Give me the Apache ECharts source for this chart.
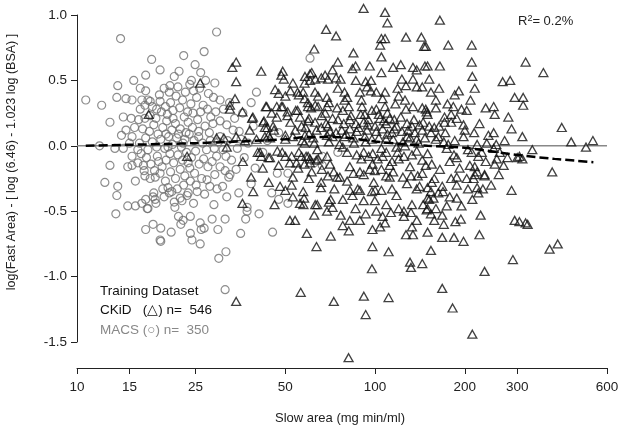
<!DOCTYPE html>
<html><head><meta charset="utf-8">
<script src="https://cdn.jsdelivr.net/npm/echarts@6/dist/echarts.min.js"></script>
<style>html,body{margin:0;padding:0;background:#fff}#c{width:624px;height:429px}</style>
</head><body><div id="c"></div>
<script>
// x tick labels (log axis)
const xTicks = [10, 15, 25, 50, 100, 200, 300, 600];
const yTicks = [-1.5, -1.0, -0.5, 0.0, 0.5, 1.0];
// MACS (circles) [slow area, residual]
const macsPoints = [[10.7,0.35],[12.1,0.31],[12.9,0.18],[14.0,0.82],[13.7,0.46],[13.6,0.37],[14.6,0.36],[15.3,0.35],[14.3,0.22],[15.2,0.21],[14.1,0.08],[15.5,0.50],[17.0,0.54],[16.3,0.44],[17.0,0.42],[17.8,0.66],[16.5,0.35],[17.3,0.35],[16.3,0.28],[16.9,0.31],[17.6,0.34],[16.9,0.21],[17.6,0.23],[15.3,0.07],[13.4,-0.02],[14.3,-0.02],[11.9,0.0],[12.9,-0.15],[12.4,-0.28],[13.7,-0.31],[13.6,-0.38],[15.3,-0.08],[14.8,-0.16],[15.3,-0.15],[16.0,-0.13],[16.7,-0.15],[15.7,-0.27],[16.9,-0.23],[17.6,-0.25],[18.6,-0.08],[17.0,-0.41],[17.2,-0.48],[18.0,-0.39],
[29.4,0.87],[26.7,0.72],[22.8,0.69],[22.0,0.57],[20.5,0.46],[24.2,0.50],[60.5,0.67],[40.0,0.41],[28.7,0.37],[30.2,0.35],[38.4,0.33],[33.4,0.12],[31.8,0.16],[30.2,0.19],[30.2,0.07],[39.0,0.15],[31.6,-0.08],[29.4,-0.08],[30.2,-0.16],[32.6,-0.22],[31.4,-0.19],[30.8,-0.31],[31.8,-0.39],[39.6,-0.17],[47.0,-0.21],[45.0,-0.36],[47.5,-0.41],[51.0,-0.44],[66.5,-0.08],[75.0,-0.05],[62.5,-0.13],[66.5,-0.15],[47.5,0.10],[51.0,-0.21],[37.2,-0.47],[40.8,-0.52],[45.3,-0.66],[35.4,-0.67],
[13.5,-0.52],[14.8,-0.46],[15.7,-0.46],[16.5,-0.44],[17.3,-0.48],[18.1,-0.36],[18.4,-0.44],[18.3,-0.41],[19.6,-0.39],[20.2,-0.32],[20.8,-0.35],[21.3,-0.47],[21.2,-0.43],[22.2,-0.40],[23.6,-0.36],[25.3,-0.35],[21.9,-0.54],[22.7,-0.57],[24.0,-0.54],[22.3,-0.60],[25.9,-0.59],[26.1,-0.64],[28.4,-0.56],[31.4,-0.56],[29.7,-0.64],[26.7,-0.63],[17.0,-0.64],[18.0,-0.60],[19.1,-0.63],[19.0,-0.72],[19.1,-0.73],[20.7,-0.66],[24.0,-0.67],[24.3,-0.72],[25.9,-0.75],[29.9,-0.86],[31.6,-0.81],[31.4,-1.10],[32.3,-0.24],[27.3,-0.26],[37.2,-0.50],
[18.5,0.28],[19.2,0.26],[19.8,0.30],[20.1,0.24],[20.6,0.33],[21.0,0.27],[21.5,0.38],[22.1,0.29],[22.6,0.35],[23.1,0.41],[23.5,0.26],[24.1,0.32],[24.6,0.42],[25.2,0.37],[18.9,0.39],[19.6,0.44],[20.4,0.41],[21.8,0.45],[23.9,0.47],[25.8,0.44],[26.5,0.31],[27.4,0.28],[28.1,0.22],[26.9,0.15],[27.8,0.10],[28.6,0.17],[29.2,0.26],[25.4,0.20],[24.4,0.14],[23.6,0.18],[22.9,0.22],[22.2,0.13],[21.4,0.17],[20.8,0.12],[20.0,0.19],[19.4,0.14],[18.7,0.09],[18.1,0.16],[17.5,0.11],[17.0,0.06],[16.6,0.13],[16.2,0.02],[17.3,-0.03],[17.9,0.03],[18.5,-0.01],[19.1,0.05],[19.7,-0.02],[20.3,0.07],[20.9,0.01],[21.6,0.06],[22.4,-0.01],[23.0,0.05],[23.8,0.09],[24.7,0.04],[25.6,0.07],[26.4,0.02],[27.2,-0.03],[28.0,0.04],[28.9,-0.02],[25.0,-0.04],[24.2,-0.09],[23.3,-0.05],[22.6,-0.11],[21.8,-0.07],[21.1,-0.13],[20.5,-0.06],[19.9,-0.11],[19.3,-0.16],[18.8,-0.12],[18.2,-0.19],[17.7,-0.14],[17.1,-0.09],[16.4,-0.06],[18.3,-0.24],[19.0,-0.21],[19.8,-0.27],[20.6,-0.20],[21.4,-0.25],[22.2,-0.18],[23.0,-0.23],[23.9,-0.17],[24.8,-0.21],[25.7,-0.14],[26.6,-0.10],[27.5,-0.16],[28.4,-0.12],[29.0,-0.22],[26.2,-0.25],[25.1,-0.30],[24.0,-0.27],[22.8,-0.30],[21.7,-0.33],[20.4,-0.36],[19.4,-0.33],[22.5,-0.42],[23.4,-0.38],[24.6,-0.44],[26.8,-0.37],[27.9,-0.31],[28.8,-0.45],[29.5,-0.33],[26.0,0.56],[24.9,0.62],[21.2,0.53],[19.0,0.58],[27.6,0.40],[23.2,0.10],[21.0,0.21],[19.9,0.09],[18.4,0.21],[24.5,0.25],[26.0,0.26],[22.7,0.02],[19.0,0.34],[17.9,0.30],[16.1,0.20],[15.6,0.14],[16.0,-0.03],[15.0,0.02],[14.6,0.12],[16.8,-0.19],[29.8,0.03],[30.9,-0.03],[32.0,0.04],[33.0,-0.11],[34.5,-0.02],[35.5,0.05],[33.8,0.21],[35.0,0.11],[36.4,-0.09],[37.5,0.02],[34.2,-0.18],[31.0,0.28],[32.5,0.33],[36.0,0.25],[42.0,-0.05],[43.5,0.04],[38.4,-0.29],[34.9,-0.36],[36.8,-0.56],[29.0,0.48],[27.0,0.50],[25.6,0.11],[20.2,-0.01],[21.9,0.09],[23.6,-0.13]];
// CKiD (triangles) [slow area, residual]
const ckidPoints = [[62.5,0.74],[34.2,0.64],[33.2,0.60],[34.2,0.49],[25.9,0.48],[33.9,0.36],[32.6,0.31],[32.6,0.28],[35.9,0.26],[38.7,0.21],[41.5,0.57],[49.0,0.57],[49.4,0.51],[53.0,0.48],[46.2,0.43],[47.5,0.40],[55.0,0.41],[57.4,0.41],[61.3,0.56],[58.0,0.48],[60.5,0.50],[43.3,0.30],[46.8,0.30],[49.0,0.30],[46.8,0.22],[50.9,0.26],[54.2,0.27],[59.6,0.30],[63.0,0.31],[42.2,0.18],[43.5,0.14],[43.9,0.08],[50.0,0.08],[53.0,0.07],[56.7,0.15],[58.5,0.14],[60.0,0.09],[57.0,0.04],[62.5,0.02],[29.4,0.06],[31.1,0.06],[31.8,-0.01],[34.2,0.07],[36.6,0.04],[41.1,-0.05],[43.9,-0.09],[47.0,-0.04],[47.5,-0.15],[50.0,-0.08],[51.8,-0.13],[54.5,-0.13],[56.7,-0.08],[58.7,-0.08],[60.5,-0.10],[61.3,-0.20],[63.5,-0.11],[38.4,-0.24],[50.0,-0.34],[52.5,-0.30],[57.4,-0.35],[57.8,-0.40],[35.9,-0.44],[56.0,-0.44],[57.5,-0.45],[63.0,-0.45],[23.4,-0.08],[17.4,0.24],
[51.8,-0.57],[53.9,-0.57],[59.0,-0.67],[62.5,-0.53],[63.6,-0.77],[56.3,-1.12],[34.2,-1.19],[65.8,-0.32],[64.0,-0.45],[71.0,-0.41],[72.0,-0.47],[69.0,-0.50],[70.0,-0.43],[71.0,-0.69],[76.7,-0.53],[77.9,-0.61],[81.6,-0.65],[82.3,-0.57],[88.9,-0.57],[91.6,-0.42],[87.5,-0.33],[89.0,-0.34],[97.6,-0.35],[100,-0.34],[99.8,-0.42],[105,-0.34],[99,-0.28],[109,-0.45],[101,-0.50],[106,-0.54],[98,-0.64],[104,-0.62],[108,-0.59],[113,-0.51],[120,-0.48],[125,-0.50],[125,-0.54],[133,-0.45],[132,-0.51],[138,-0.57],[133,-0.62],[127,-0.68],[134,-0.68],[149,-0.49],[150,-0.66],[98,-0.77],[111,-0.81],[97.6,-0.94],[131,-0.89],[132,-0.93],[144,-0.90],[72.7,-1.19],[91.7,-1.15],[111,-1.16],[93,-1.29],[81.5,-1.62],[112,-0.24],[114,-0.33],[141,-0.31],[150,-0.32],[150,-0.40],[74.6,-0.24],[80.6,-0.27],[82.3,-0.34],[84,-0.38],
[158,-0.25],[180,-0.25],[188,-0.24],[203,-0.25],[214,-0.25],[233,-0.23],[155,-0.28],[154,-0.35],[168,-0.31],[169,-0.35],[163,-0.36],[188,-0.30],[220,-0.32],[230,-0.33],[222,-0.36],[152,-0.41],[157,-0.40],[188,-0.40],[212,-0.41],[287,-0.34],[174,-0.46],[150,-0.48],[154,-0.52],[168,-0.53],[158,-0.57],[170,-0.60],[186,-0.58],[194,-0.56],[226,-0.53],[168,-0.70],[184,-0.70],[198,-0.73],[224,-0.68],[294,-0.57],[305,-0.58],[320,-0.59],[325,-0.60],[385,-0.79],[410,-0.75],[290,-0.87],[154,-0.80],[233,-0.96],[168,-1.09],[182,-1.24],[212,-1.44],
[165,0.96],[148,0.76],[176,0.77],[211,0.77],[211,0.64],[320,0.64],[367,0.56],[150,0.61],[165,0.61],[152,0.51],[212,0.53],[268,0.49],[284,0.50],[216,0.44],[164,0.44],[154,0.41],[191,0.42],[185,0.39],[294,0.37],[314,0.37],[314,0.31],[209,0.35],[183,0.30],[235,0.29],[250,0.30],[203,0.27],[160,0.29],[148,0.28],[150,0.24],[252,0.24],[280,0.22],[171,0.22],[180,0.24],[188,0.21],[224,0.17],[198,0.16],[200,0.12],[287,0.13],[250,0.10],[312,0.07],[423,0.14],[455,0.03],[510,-0.01],[538,0.04],[337,-0.03],[393,-0.20],[220,0.01],[237,0.02],[255,0.01],[250,-0.02],[278,-0.09],[300,-0.09],[312,-0.10],[305,-0.08],[235,-0.12],[256,-0.10],[252,-0.14],[222,-0.08],[211,-0.05],[208,-0.15],[216,-0.16],[220,-0.20],[233,-0.22],[216,-0.22],[188,-0.09],[184,-0.07],[174,-0.02],[176,0.01],[170,0.03],[163,0.07],[154,0.10],[152,0.15],[158,0.14],[164,0.15],[171,0.18],[180,0.18],
[91.5,1.05],[108,1.02],[110,0.94],[68.5,0.89],[74,0.84],[105,0.82],[108,0.82],[104,0.77],[127,0.83],[143,0.83],[146,0.76],[84.6,0.71],[75,0.64],[105,0.68],[122,0.62],[72,0.58],[84,0.59],[86,0.61],[96,0.61],[105,0.56],[115,0.60],[134,0.60],[138,0.58],[147,0.61],[48.5,0.54],[68,0.54],[69.5,0.51],[74,0.52],[76.6,0.51],[86.2,0.50],[93,0.49],[97,0.50],[94,0.45],[123,0.51],[127,0.46],[134,0.51],[138,0.45],[144,0.45],[52,0.42],[55.5,0.39],[62.9,0.41],[64.4,0.38],[69,0.37],[75,0.44],[79,0.41],[80.6,0.37],[79,0.35],[89,0.41],[96.7,0.42],[101,0.41],[108,0.41],[106,0.36],[119,0.44],[126,0.35],[43,0.30],[48.5,0.30],[55,0.27],[59.5,0.33],[61,0.29],[64.4,0.30],[69,0.30],[74.6,0.29],[81.6,0.30],[90.4,0.30],[92.4,0.24],[97.6,0.27],[101,0.28],[108,0.30],[110,0.25],[117,0.32],[127,0.28],[134,0.30],[144,0.29],[149,0.26],[38.9,0.22],[42.4,0.19],[50.8,0.23],[66.2,0.23],[59.6,0.19],[62.9,0.18],[68.5,0.17],[75.1,0.20],[78.5,0.17],[82.3,0.20],[86.2,0.17],[89.6,0.24],[91.6,0.18],[94.5,0.16],[104,0.21],[109,0.17],[112,0.21],[116,0.20],[118,0.15],[128,0.17],[133,0.15],[141,0.16],[42.7,0.14],[45.5,0.15],[45.8,0.12],[63.6,0.12],[69.5,0.15],[70.6,0.11],[77.3,0.12],[82.3,0.13],[86.8,0.11],[94,0.12],[101,0.11],[106,0.13],[114,0.10],[123,0.11],[128,0.07],[136,0.10],[144,0.12],[42.7,0.07],[44.4,0.06],[50,0.05],[58.2,0.08],[69,0.08],[72,0.07],[79,0.07],[84.6,0.06],[92.4,0.07],[97.6,0.05],[103,0.06],[109,0.05],[115,0.05],[124,0.03],[131,0.06],[138,0.05],[147,0.06],[40.4,-0.05],[41.5,-0.08],[44.4,-0.09],[48.8,-0.05],[52.5,-0.08],[55.5,-0.05],[59.6,-0.08],[60.5,-0.13],[64.4,-0.10],[69,-0.08],[70.6,-0.14],[77.9,-0.01],[80.6,-0.05],[86.8,-0.07],[91.6,-0.05],[95.2,-0.08],[98.2,-0.06],[102,-0.10],[106,-0.08],[109,-0.05],[114,-0.12],[118,-0.01],[119,-0.05],[125,-0.08],[133,-0.07],[138,-0.04],[144,-0.11],[148,-0.15],[55.2,-0.17],[58,-0.14],[66.3,-0.18],[72.7,-0.20],[82.3,-0.16],[84.6,-0.21],[89,-0.20],[91.6,-0.22],[96,-0.18],[99.8,-0.19],[105,-0.18],[109,-0.23],[115,-0.20],[124,-0.24],[132,-0.23],[139,-0.23],[144,-0.21],[76.2,-0.24],[69.5,-0.23],[53,-0.24],
[58.2,0.53],[60.5,0.55],[63,0.51],[66,0.52],
[52,0.18],[54,0.12],[56,0.22],[58,0.02],[60,0.21],[62,0.06],[64,-0.03],[66,0.14],[68,0.25],[70,0.03],[72,0.21],[74,0.10],[76,0.01],[78,0.27],[80,0.09],[83,0.23],[85,0.02],[88,0.14],[90,-0.10],[93,0.03],[95,0.20],[98,-0.14],[100,0.15],[103,0.24],[105,-0.02],[107,0.19],[110,0.09],[112,-0.15],[116,0.13],[120,-0.10],[122,0.22],[126,0.00],[129,0.12],[131,-0.16],[135,0.20],[140,0.02],[145,0.18],[150,-0.06],[155,-0.14],[160,0.05],[165,-0.18],[172,0.10],[178,-0.12],[185,0.04],[192,-0.17],[198,0.07],[205,-0.03],[215,0.10],[228,-0.05],[240,0.08],[262,-0.05],[272,0.04],[160,0.35],[175,0.32],[195,0.28],[120,0.38],[90,0.35],[70,0.33],[58,0.36],[50,0.38],[45,0.25],[40,0.05],[38,0.12],[36,-0.12],[39,-0.35],[42,-0.17],[44,-0.28],[46,-0.45],[48,-0.31],[53,-0.39],[66,-0.28],[60,-0.25],[73,-0.33],[78,-0.41],[86,-0.48],[93,-0.52],[118,-0.38],[128,-0.29],[138,-0.33],[145,-0.45],[160,-0.48],[178,-0.39],[195,-0.46],[205,-0.33],[245,-0.30],[260,-0.22],[270,-0.15]];
// fitted trend (dashed)
const fitX = [10.7, 15, 20, 25, 35, 50, 60, 76, 100, 121, 150, 200, 300, 400, 540];
const fitY = [0.0, 0.008, 0.014, 0.02, 0.033, 0.05, 0.068, 0.066, 0.033, 0.015, 0.0, -0.015, -0.07, -0.1, -0.125];
// zero reference line
const zeroX = [10, 600];
const zeroY = [0, 0];

const FONT = '"Liberation Sans", Arial, sans-serif';
const chart = echarts.init(document.getElementById('c'), null, {renderer: 'canvas'});
chart.setOption({
  animation: false,
  backgroundColor: '#fff',
  grid: {left: 77, right: 17, top: 15, bottom: 87},
  xAxis: {
    type: 'log', logBase: 10, min: 10, max: 600, offset: 26,
    axisLine: {show: true, onZero: false, lineStyle: {color: '#222', width: 1}},
    axisTick: {show: true, customValues: xTicks, length: 6, lineStyle: {color: '#222'}},
    axisLabel: {customValues: xTicks, margin: 12, fontSize: 13.5, color: '#222', fontFamily: FONT},
    splitLine: {show: false}, minorTick: {show: false}
  },
  yAxis: {
    type: 'value', min: -1.5, max: 1.0, interval: 0.5,
    axisLine: {show: true, onZero: false, lineStyle: {color: '#222', width: 1}},
    axisTick: {show: true, length: 6, lineStyle: {color: '#222'}},
    axisLabel: {margin: 10, fontSize: 13.5, color: '#222', fontFamily: FONT,
      formatter: v => (Math.abs(v) < 1e-9 ? 0 : v).toFixed(1)},
    splitLine: {show: false}
  },
  series: [
    {type: 'line', data: zeroX.map((x, i) => [x, zeroY[i]]), symbol: 'none',
     lineStyle: {color: '#888', width: 1.5}, z: 1, silent: true},
    {type: 'scatter', name: 'MACS', data: macsPoints, symbol: 'circle', symbolSize: 8, clip: false,
     itemStyle: {color: 'rgba(0,0,0,0)', borderColor: '#707070', borderWidth: 1.2}, z: 2},
    {type: 'scatter', name: 'CKiD', data: ckidPoints, symbol: 'triangle', symbolSize: [9, 8], clip: false,
     itemStyle: {color: 'rgba(0,0,0,0)', borderColor: '#111', borderWidth: 1.3}, z: 3},
    {type: 'line', data: fitX.map((x, i) => [x, fitY[i]]), symbol: 'none', smooth: 0.3,
     lineStyle: {color: '#000', width: 2.5, type: [9, 4]}, z: 4}
  ],
  graphic: [
    {type: 'text', left: 518, top: 14, style: {
      text: '{a|R}{s|2}{a|= 0.2%}', fontFamily: FONT,
      rich: {a: {fontSize: 13, fill: '#222', fontFamily: FONT}, s: {fontSize: 9, fill: '#222', verticalAlign: 'top', padding: [0,0,6,0], fontFamily: FONT}}}},
    {type: 'text', left: 100, top: 284, style: {text: 'Training Dataset', fontSize: 13.5, fill: '#111', fontFamily: FONT}},
    {type: 'text', left: 100, top: 303, style: {text: 'CKiD   (△) n=  546', fontSize: 13.5, fill: '#111', fontFamily: FONT}},
    {type: 'text', left: 100, top: 323, style: {text: 'MACS (○) n=  350', fontSize: 13.5, fill: '#888', fontFamily: FONT}},
    {type: 'text', x: 340, y: 418, style: {text: 'Slow area (mg min/ml)', fontSize: 13, fill: '#222', fontFamily: FONT, align: 'center', verticalAlign: 'middle'}},
    {type: 'text', x: 12, y: 162, rotation: Math.PI / 2, style: {text: 'log(Fast Area) - [ log (6.46) - 1.023 log (BSA) ]', fontSize: 12.5, fill: '#222', fontFamily: FONT, align: 'center', verticalAlign: 'middle'}}
  ]
});
</script></body></html>
